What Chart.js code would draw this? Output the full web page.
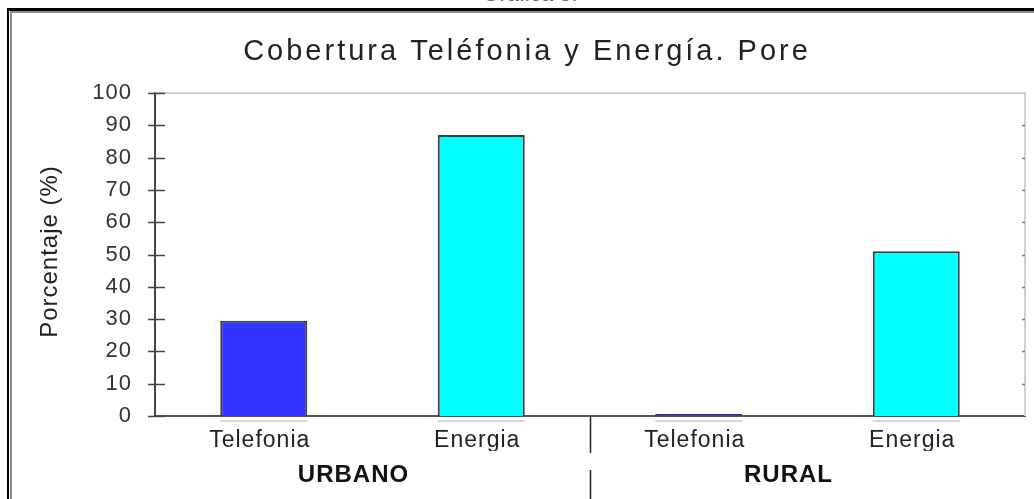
<!DOCTYPE html>
<html><head><meta charset="utf-8">
<script src="https://cdn.jsdelivr.net/npm/chart.js@4"></script>
<style>
html,body{margin:0;padding:0;background:#fff;overflow:hidden}
#wrap{position:relative;width:1034px;height:499px;overflow:hidden}
canvas{position:absolute;left:0;top:0}
.f1{position:absolute;left:7px;top:8px;right:-10px;bottom:-10px;border-top:3px solid #000;border-left:2px solid #000;pointer-events:none}
.f2{position:absolute;left:10px;top:11px;right:-10px;bottom:-10px;border-top:2px solid #8a8a8a;border-left:2px solid #8a8a8a;pointer-events:none}
.cap{position:absolute;left:0;width:1060px;top:-17px;text-align:center;font:22px "Liberation Sans",Arial,sans-serif;color:#666;line-height:22px}
</style>
</head><body>
<div id="wrap">
<canvas id="c" width="1034" height="499"></canvas>
<div class="cap">Gráfica 3.</div>
<div class="f1"></div><div class="f2"></div>
</div>
<script>
const categories = ['Telefonia', 'Energia', 'Telefonia', 'Energia'];
const groups = ['URBANO', 'RURAL'];
const values = [29.5, 87, 0.6, 51];
const barColors = ['#3333ff', '#00ffff', '#3333ff', '#00ffff'];
const yTicks = [0, 10, 20, 30, 40, 50, 60, 70, 80, 90, 100];
const chartTitle = 'Cobertura Teléfonia y Energía. Pore';
const yTitle = 'Porcentaje (%)';

const FONT = '"Liberation Sans", Arial, sans-serif';

const deco = {
  id: 'deco',
  beforeDraw(chart) {
    chart.ctx.letterSpacing = '1px';
  },
  beforeDatasetsDraw(chart) {
    const {ctx, chartArea: a} = chart;
    ctx.save();
    ctx.strokeStyle = '#cfcfcf';
    ctx.lineWidth = 2;
    ctx.beginPath();
    ctx.moveTo(a.left, a.top); ctx.lineTo(a.right, a.top); ctx.lineTo(a.right, a.bottom);
    ctx.stroke();
    // faint shadow line under each bar
    ctx.strokeStyle = '#d6d6d6';
    chart.getDatasetMeta(0).data.forEach(b => {
      ctx.beginPath();
      ctx.moveTo(b.x - b.width / 2, a.bottom + 5);
      ctx.lineTo(b.x + b.width / 2, a.bottom + 5);
      ctx.stroke();
    });
    ctx.restore();
  },
  afterDraw(chart) {
    const {ctx, chartArea: a} = chart;
    const y = chart.scales.y, x = chart.scales.x;
    ctx.save();
    ctx.lineWidth = 1.5;
    y.ticks.forEach((t, i) => {
      const py = Math.round(y.getPixelForTick(i)) + 0.5;
      ctx.strokeStyle = '#444';
      ctx.beginPath(); ctx.moveTo(a.left - 7, py); ctx.lineTo(a.left + 10, py); ctx.stroke();
      if (i > 0 && i < y.ticks.length - 1) {
        ctx.strokeStyle = '#777';
        ctx.beginPath(); ctx.moveTo(a.right - 3, py); ctx.lineTo(a.right, py); ctx.stroke();
      }
    });
    // group separator
    const sx = Math.round(x.getPixelForValue(1.5)) + 0.5;
    ctx.strokeStyle = '#222';
    ctx.beginPath();
    ctx.moveTo(sx, a.bottom); ctx.lineTo(sx, a.bottom + 37);
    ctx.moveTo(sx, a.bottom + 54); ctx.lineTo(sx, chart.height);
    ctx.stroke();
    // chart title
    ctx.letterSpacing = '3px';
    ctx.fillStyle = '#222';
    ctx.font = '29px ' + FONT;
    ctx.textAlign = 'center';
    ctx.textBaseline = 'middle';
    ctx.fillText(chartTitle, 527, 52);
    // y axis title
    ctx.letterSpacing = '1px';
    ctx.font = '24px ' + FONT;
    ctx.translate(50, (a.top + a.bottom) / 2 - 3);
    ctx.rotate(-Math.PI / 2);
    ctx.fillText(yTitle, 0, 0);
    ctx.restore();
  }
};

new Chart(document.getElementById('c'), {
  type: 'bar',
  data: {
    labels: categories,
    datasets: [{
      data: values,
      backgroundColor: barColors,
      borderColor: '#3c3c3c',
      borderWidth: 2,
      barPercentage: 0.4,
      categoryPercentage: 1
    }]
  },
  options: {
    responsive: false,
    animation: false,
    layout: {padding: {left: 0, right: 9, top: 93, bottom: 0}},
    plugins: {
      legend: {display: false},
      tooltip: {enabled: false},
      title: {display: false}
    },
    scales: {
      x: {
        type: 'category',
        position: 'bottom',
        offset: true,
        grid: {display: false},
        border: {display: true, color: '#555', width: 2},
        ticks: {color: '#222', font: {family: FONT, size: 23}, padding: 3, maxRotation: 0, labelOffset: -4},
        afterFit(s) { s.height = 35; }
      },
      x2: {
        type: 'category',
        position: 'bottom',
        labels: groups,
        offset: true,
        grid: {display: false},
        border: {display: false},
        ticks: {color: '#111', font: {family: FONT, size: 24, weight: 'bold'}, padding: 2, maxRotation: 0, labelOffset: -19},
        afterFit(s) { s.height = 48; }
      },
      y: {
        min: 0, max: 100,
        afterBuildTicks(s) { s.ticks = yTicks.map(v => ({value: v})); },
        grid: {display: false, drawTicks: false},
        border: {display: true, color: '#444', width: 2},
        ticks: {color: '#333', font: {family: FONT, size: 22}, padding: 23},
        title: {display: false},
        afterFit(s) { s.width = 155; }
      }
    }
  },
  plugins: [deco]
});
</script>
</body></html>
